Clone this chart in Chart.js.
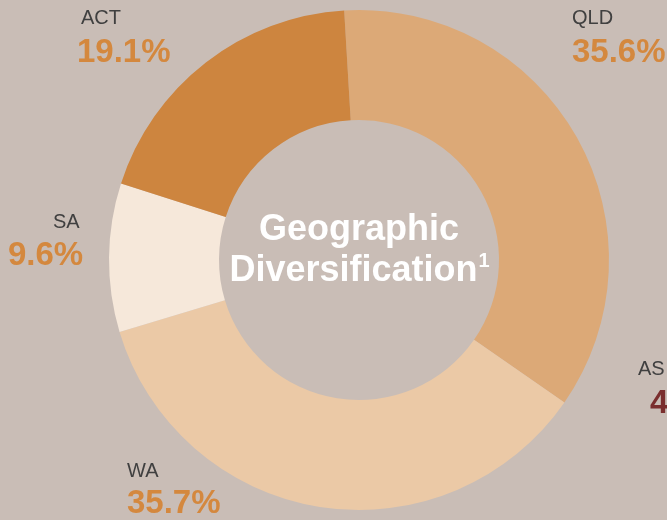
<!DOCTYPE html>
<html>
<head>
<meta charset="utf-8">
<script src="https://cdn.jsdelivr.net/npm/chart.js@4"></script>
<style>
  html, body { margin: 0; padding: 0; background: #c9bdb6; }
  #wrap { width: 667px; height: 520px; position: relative; }
</style>
</head>
<body>
<div id="wrap"><canvas id="geoChart" width="667" height="520"></canvas></div>
<script>
// data
var regions = ['QLD', 'WA', 'SA', 'ACT'];
var shares = [35.6, 35.7, 9.6, 19.1];
var sliceColors = ['#dca977', '#ebc9a6', '#f6e8da', '#cd853f'];

// where each label sits (name baseline, value baseline)
var labelSpots = {
    QLD: { x: 572, nameY: 24, valueY: 62 },
    WA:  { x: 127, nameY: 477, valueY: 513 },
    SA:  { x: 8,   nameY: 228, valueY: 265, nameX: 53 },
    ACT: { x: 77,  nameY: 24, valueY: 62, nameX: 81 }
};

var labelPlugin = {
    id: 'labelPlugin',
    afterDraw: function(chart) {
        var ctx = chart.ctx;
        var meta = chart.getDatasetMeta(0);
        var arc = meta.data[0];
        ctx.save();
        ctx.textBaseline = 'alphabetic';
        ctx.textAlign = 'left';
        regions.forEach(function(name, i) {
            var spot = labelSpots[name];
            ctx.fillStyle = '#404040';
            ctx.font = '20px "Liberation Sans", Arial, sans-serif';
            ctx.fillText(name, spot.nameX || spot.x, spot.nameY);
            ctx.fillStyle = '#d4883e';
            ctx.font = 'bold 33px "Liberation Sans", Arial, sans-serif';
            ctx.fillText(shares[i].toFixed(1) + '%', spot.x, spot.valueY);
        });

        // label of the neighbouring chart, cut off at the right edge
        ctx.fillStyle = '#404040';
        ctx.font = '20px "Liberation Sans", Arial, sans-serif';
        ctx.fillText('AS', 638, 375);
        ctx.fillStyle = '#7a2e2e';
        ctx.font = 'bold 33px "Liberation Sans", Arial, sans-serif';
        ctx.fillText('4', 650, 413);

        // centre title
        var cx = arc.x;
        ctx.fillStyle = '#ffffff';
        ctx.textAlign = 'center';
        ctx.font = 'bold 36px "Liberation Sans", Arial, sans-serif';
        ctx.fillText('Geographic', cx, 240);
        var line2 = 'Diversification';
        var w2 = ctx.measureText(line2).width;
        ctx.font = 'bold 20px "Liberation Sans", Arial, sans-serif';
        var wSup = ctx.measureText('1').width;
        var startX = cx - (w2 + wSup) / 2;
        ctx.textAlign = 'left';
        ctx.font = 'bold 36px "Liberation Sans", Arial, sans-serif';
        ctx.fillText(line2, startX, 281);
        ctx.font = 'bold 20px "Liberation Sans", Arial, sans-serif';
        ctx.fillText('1', startX + w2 + 1, 267);
        ctx.restore();
    }
};

var ctx = document.getElementById('geoChart').getContext('2d');
var geoChart = new Chart(ctx, {
    type: 'doughnut',
    data: {
        labels: regions,
        datasets: [{
            data: shares,
            backgroundColor: sliceColors,
            borderWidth: 0
        }]
    },
    options: {
        responsive: false,
        animation: false,
        rotation: -3.4,
        cutout: '56%',
        layout: { padding: { left: 51, right: 0, top: 10, bottom: 10 } },
        plugins: {
            legend: { display: false },
            tooltip: { enabled: false }
        }
    },
    plugins: [labelPlugin]
});
</script>
</body>
</html>
